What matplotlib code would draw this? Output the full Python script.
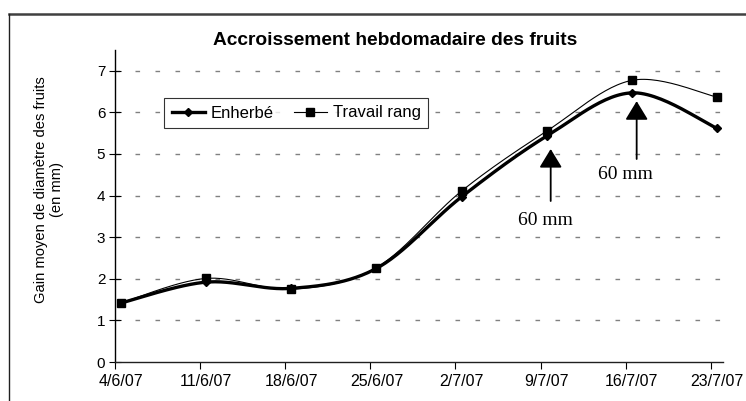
import numpy as np
import matplotlib
matplotlib.use("Agg")
import matplotlib.pyplot as plt
import matplotlib.dates as mdates
from matplotlib.lines import Line2D
import datetime as dt

plt.rcParams['font.family'] = ['Liberation Sans', 'DejaVu Sans']
plt.rcParams['lines.scale_dashes'] = False

# ---- data ----
dates = ["2007-06-04", "2007-06-11", "2007-06-18", "2007-06-25",
         "2007-07-02", "2007-07-09", "2007-07-16", "2007-07-23"]
tick_labels = ["4/6/07", "11/6/07", "18/6/07", "25/6/07",
               "2/7/07", "9/7/07", "16/7/07", "23/7/07"]
enherbe = [1.42, 1.92, 1.77, 2.25, 3.97, 5.43, 6.47, 5.62]
travail = [1.42, 2.01, 1.75, 2.27, 4.11, 5.55, 6.77, 6.37]
series_names = ["Enherbé", "Travail rang"]
title = "Accroissement hebdomadaire des fruits"
ylabel = "Gain moyen de diamètre des fruits\n(en mm)"
annot_text = "60 mm"

x = mdates.date2num([dt.datetime.fromisoformat(d) for d in dates])


def smooth(xs, ys, n=30):
    """Excel-like smoothed line: cubic Bezier through the points."""
    P = np.column_stack([xs, ys]).astype(float)
    m = len(P)
    out = [P[0]]
    t = np.linspace(0, 1, n)[1:, None]
    for i in range(m - 1):
        p0 = P[i]
        p3 = P[i + 1]
        pm = P[i - 1] if i > 0 else P[i]
        pp = P[i + 2] if i + 2 < m else P[i + 1]
        c1 = p0 + (p3 - pm) / 6.0
        c2 = p3 - (pp - p0) / 6.0
        seg = ((1 - t) ** 3) * p0 + 3 * ((1 - t) ** 2) * t * c1 + \
            3 * (1 - t) * t ** 2 * c2 + t ** 3 * p3
        out.extend(seg)
    out = np.array(out)
    return out[:, 0], out[:, 1]


W, H = 746, 401
fig = plt.figure(figsize=(W / 100, H / 100), dpi=100)

# outer chart frame (top and left edges visible)
fig.add_artist(Line2D([9 / W, 1.01], [1 - 14 / H, 1 - 14 / H], transform=fig.transFigure,
                      color='#404040', lw=1.8))
fig.add_artist(Line2D([9 / W, 9 / W], [1 - 14 / H, -0.01], transform=fig.transFigure,
                      color='#202020', lw=1.0))

left, right = 115 / W, 723 / W
bottom, top = 1 - 362 / H, 1 - 50 / H
ax = fig.add_axes([left, bottom, right - left, top - bottom])

ax.set_xlim(x[0] - 0.5, x[-1] + 0.5)
ax.set_ylim(0, 7.5)

# grid
for yv in range(1, 8):
    ax.axhline(yv, color='#808080', lw=1.0, dashes=(3.3, 11.1), zorder=1)

# lines
sx, sy = smooth(x, enherbe)
ax.plot(sx, sy, color='black', lw=2.4, zorder=3, solid_capstyle='round')
ax.plot(x, enherbe, ls='none', marker='D', ms=4.5, color='black', zorder=4)
sx2, sy2 = smooth(x, travail)
ax.plot(sx2, sy2, color='black', lw=0.8, zorder=5)
ax.plot(x, travail, ls='none', marker='s', ms=5.5, color='black', zorder=6)

# legend
h1 = Line2D([], [], color='black', lw=2.4, marker='D', ms=4.5)
h2 = Line2D([], [], color='black', lw=0.8, marker='s', ms=5.5)
leg = ax.legend([h1, h2], series_names, loc='upper left',
                bbox_to_anchor=((164 - 115) / 608, (362 - 98) / 312),
                borderaxespad=0, ncol=2, fontsize=12, frameon=True, fancybox=False,
                edgecolor='black', handlelength=2.0, handletextpad=0.35,
                columnspacing=1.2, borderpad=0.45)
leg.get_frame().set_linewidth(0.8)
leg.set_zorder(10)

# arrows and annotations
arrow_kw = dict(arrowstyle='-|>,head_length=1.15,head_width=0.7', color='black',
                lw=1.3, shrinkA=0, shrinkB=0)
ax.annotate('', xy=(x[5] + 0.33, 5.12), xytext=(x[5] + 0.33, 3.87), arrowprops=arrow_kw, zorder=7)
ax.annotate('', xy=(x[6] + 0.4, 6.27), xytext=(x[6] + 0.4, 4.88), arrowprops=arrow_kw, zorder=7)
ax.text(x[5] - 0.1, 3.41, annot_text, family='Liberation Serif', fontsize=14,
        ha='center', va='center')
ax.text(x[6] - 0.5, 4.5, annot_text, family='Liberation Serif', fontsize=14,
        ha='center', va='center')

# axes styling
for s in ['top', 'right']:
    ax.spines[s].set_visible(False)
ax.spines['left'].set_linewidth(1.0)
ax.spines['bottom'].set_linewidth(1.0)
ax.spines['bottom'].set_color('#202020')

ax.set_yticks(range(0, 8))
ax.tick_params(axis='y', direction='inout', length=8, width=0.8, labelsize=11, pad=3)

ax.set_xticks(x - 0.5)
ax.set_xticklabels([])
ax.set_xticks(x, minor=True)
ax.set_xticklabels(tick_labels, minor=True)
ax.tick_params(axis='x', which='major', direction='out', length=5, width=0.8)
ax.tick_params(axis='x', which='minor', length=0, labelsize=11.5, pad=9)

ax.set_title(title, fontsize=13.8, fontweight='bold', pad=0,
             x=(395 - 115) / 608, y=1 + (50 - 40) / 312, va='center')
ax.set_ylabel(ylabel, fontsize=10.6, linespacing=1.15, va='center', ha='center')
ax.yaxis.set_label_coords((49 - 115) / 608, (362 - 190) / 312)

fig.savefig('out.png', dpi=100)
